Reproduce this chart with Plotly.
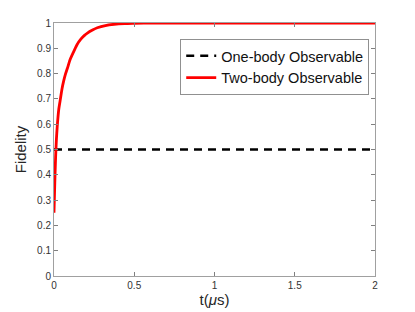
import plotly.graph_objects as go

t_two = [0, 0.005, 0.01, 0.015, 0.02, 0.03, 0.04, 0.05, 0.06, 0.07, 0.083, 0.10,
         0.125, 0.145, 0.166, 0.19, 0.208, 0.24, 0.27, 0.32, 0.374, 0.44, 0.5, 0.6, 2.0]
f_two = [0.25, 0.37, 0.47, 0.54, 0.59, 0.66, 0.70, 0.74, 0.77, 0.795, 0.82, 0.855,
         0.89, 0.916, 0.935, 0.951, 0.960, 0.972, 0.981, 0.990, 0.995, 0.998, 0.999, 1.0, 1.0]
t_one = [0, 2]
f_one = [0.5, 0.5]

x_ticks = [0, 0.5, 1, 1.5, 2]
x_labels = ["0", "0.5", "1", "1.5", "2"]
y_ticks = [0, 0.1, 0.2, 0.3, 0.4, 0.5, 0.6, 0.7, 0.8, 0.9, 1]
y_labels = ["0", "0.1", "0.2", "0.3", "0.4", "0.5", "0.6", "0.7", "0.8", "0.9", "1"]

fig = go.Figure()
fig.add_trace(go.Scatter(x=t_one, y=f_one, mode="lines", name="One-body Observable",
                         line=dict(color="black", width=2.5, dash="8px,6px")))
fig.add_trace(go.Scatter(x=t_two, y=f_two, mode="lines", name="Two-body Observable",
                         line=dict(color="#ff0000", width=2.8, shape="spline", smoothing=0.6)))

axis_common = dict(showline=True, linecolor="#a0a0a0", linewidth=1, mirror="ticks",
                   ticks="inside", ticklen=4, tickcolor="#808080", showgrid=False,
                   zeroline=False, automargin=False,
                   tickfont=dict(family="Liberation Sans, Arial", size=10, color="#333333"))

fig.update_layout(
    width=407, height=304,
    margin=dict(l=46, r=40, t=15, b=36, autoexpand=False),
    paper_bgcolor="white", plot_bgcolor="white",
    font=dict(family="Liberation Sans, Arial", color="#262626"),
    xaxis=dict(range=[0, 2], tickvals=x_ticks, ticktext=x_labels,
               title=dict(text="t(<i>μ</i>s)", font=dict(size=15, color="#262626"), standoff=4),
               **axis_common),
    yaxis=dict(range=[0, 1], tickvals=y_ticks, ticktext=y_labels,
               title=dict(text="Fidelity", font=dict(size=15, color="#262626"), standoff=6),
               **axis_common),
    legend=dict(x=0.982, y=0.937, xanchor="right", yanchor="top",
                bgcolor="white", bordercolor="#909090", borderwidth=1,
                font=dict(size=14.5, color="#111111"), tracegroupgap=0,
                itemwidth=30),
    showlegend=True,
)

fig.write_html("out.html")
